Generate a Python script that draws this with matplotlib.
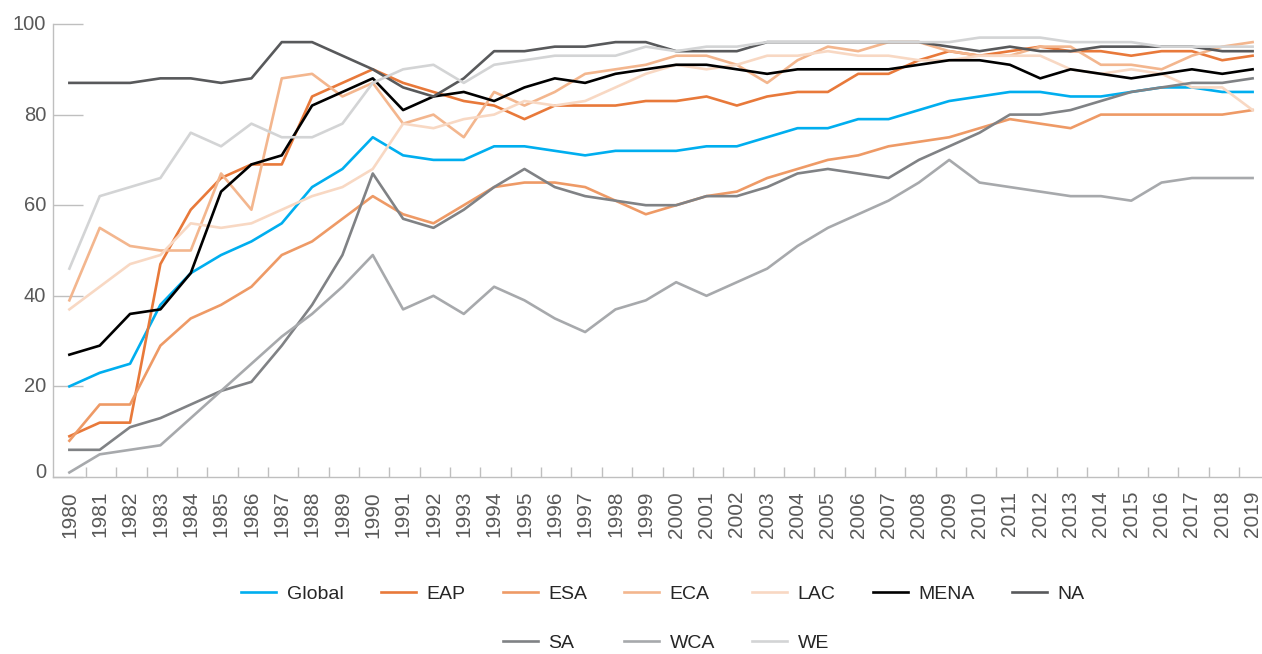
import matplotlib
matplotlib.use("Agg")
import matplotlib.pyplot as plt
import matplotlib.transforms as mtransforms
from matplotlib.lines import Line2D

years = list(range(1980, 2020))

global_vals = [20, 23, 25, 38, 45, 49, 52, 56, 64, 68,
               75, 71, 70, 70, 73, 73, 72, 71, 72, 72,
               72, 73, 73, 75, 77, 77, 79, 79, 81, 83,
               84, 85, 85, 84, 84, 85, 86, 86, 85, 85]
eap = [9, 12, 12, 47, 59, 66, 69, 69, 84, 87,
       90, 87, 85, 83, 82, 79, 82, 82, 82, 83,
       83, 84, 82, 84, 85, 85, 89, 89, 92, 94,
       93, 94, 95, 94, 94, 93, 94, 94, 92, 93]
esa = [8, 16, 16, 29, 35, 38, 42, 49, 52, 57,
       62, 58, 56, 60, 64, 65, 65, 64, 61, 58,
       60, 62, 63, 66, 68, 70, 71, 73, 74, 75,
       77, 79, 78, 77, 80, 80, 80, 80, 80, 81]
eca = [39, 55, 51, 50, 50, 67, 59, 88, 89, 84,
       87, 78, 80, 75, 85, 82, 85, 89, 90, 91,
       93, 93, 91, 87, 92, 95, 94, 96, 96, 94,
       93, 93, 95, 95, 91, 91, 90, 93, 95, 96]
lac = [37, 42, 47, 49, 56, 55, 56, 59, 62, 64,
       68, 78, 77, 79, 80, 83, 82, 83, 86, 89,
       91, 90, 91, 93, 93, 94, 93, 93, 92, 92,
       93, 93, 93, 90, 89, 90, 89, 86, 86, 81]
mena = [27, 29, 36, 37, 45, 63, 69, 71, 82, 85,
        88, 81, 84, 85, 83, 86, 88, 87, 89, 90,
        91, 91, 90, 89, 90, 90, 90, 90, 91, 92,
        92, 91, 88, 90, 89, 88, 89, 90, 89, 90]
na = [87, 87, 87, 88, 88, 87, 88, 96, 96, 93,
      90, 86, 84, 88, 94, 94, 95, 95, 96, 96,
      94, 94, 94, 96, 96, 96, 96, 96, 96, 95,
      94, 95, 94, 94, 95, 95, 95, 95, 94, 94]
sa = [6, 6, 11, 13, 16, 19, 21, 29, 38, 49,
      67, 57, 55, 59, 64, 68, 64, 62, 61, 60,
      60, 62, 62, 64, 67, 68, 67, 66, 70, 73,
      76, 80, 80, 81, 83, 85, 86, 87, 87, 88]
wca = [1, 5, 6, 7, 13, 19, 25, 31, 36, 42,
       49, 37, 40, 36, 42, 39, 35, 32, 37, 39,
       43, 40, 43, 46, 51, 55, 58, 61, 65, 70,
       65, 64, 63, 62, 62, 61, 65, 66, 66, 66]
we = [46, 62, 64, 66, 76, 73, 78, 75, 75, 78,
      87, 90, 91, 87, 91, 92, 93, 93, 93, 95,
      94, 95, 95, 96, 96, 96, 96, 96, 96, 96,
      97, 97, 97, 96, 96, 96, 95, 95, 95, 95]

series_names = ["Global", "EAP", "ESA", "ECA", "LAC", "MENA", "NA", "SA", "WCA", "WE"]
series_values = [global_vals, eap, esa, eca, lac, mena, na, sa, wca, we]
colors = ["#00AEEF", "#E8793A", "#EE9A66", "#F3B68E", "#F8D8C3",
          "#000000", "#58595B", "#808285", "#A7A9AC", "#D3D4D5"]

y_ticks = [0, 20, 40, 60, 80, 100]

plt.rcParams['font.family'] = ['Liberation Sans', 'DejaVu Sans']

fig = plt.figure(figsize=(12.62, 6.54), dpi=100)
ax = fig.add_axes([53.3 / 1262, 1 - 477 / 654, 1 - 53.3 / 1262, (477 - 24) / 654])

lines = {}
for name, vals, c in zip(series_names, series_values, colors):
    ln, = ax.plot(years, vals, color=c, lw=1.9, solid_joinstyle='round', clip_on=False)
    lines[name] = ln

ax.set_xlim(1979.47, 2019.31)
ax.set_ylim(0, 100)

for s in ['top', 'right']:
    ax.spines[s].set_visible(False)
for s in ['left', 'bottom']:
    ax.spines[s].set_color('#BFBFBF')
    ax.spines[s].set_linewidth(1.0)

ax.set_yticks(y_ticks)
ax.set_yticklabels([str(v) for v in y_ticks])
ax.tick_params(axis='y', direction='in', length=21.5, width=1.0, color='#BFBFBF',
               labelsize=14.5, labelcolor='#595959', pad=5)
for lab in ax.get_yticklabels():
    dy = 6 if lab.get_text() == '0' else 1.5
    lab.set_transform(lab.get_transform() +
                      mtransforms.ScaledTranslation(0, dy / 100, fig.dpi_scale_trans))

# major x ticks between categories (marks only), minor at years for labels
ax.set_xticks([y + 0.55 for y in years[:-1]])
ax.set_xticklabels([])
ax.tick_params(axis='x', which='major', direction='in', length=7.2, width=1.0, color='#BFBFBF')
ax.set_xticks(years, minor=True)
ax.set_xticklabels([str(y) for y in years], minor=True, rotation=90)
ax.tick_params(axis='x', which='minor', length=0, labelsize=15, labelcolor='#595959', pad=10)

# legend: 7 columns, second row under ESA/ECA/LAC
blank = Line2D([], [], color='none')
order = [("Global", lines["Global"]), ("", blank),
         ("EAP", lines["EAP"]), ("", blank),
         ("ESA", lines["ESA"]), ("SA", lines["SA"]),
         ("ECA", lines["ECA"]), ("WCA", lines["WCA"]),
         ("LAC", lines["LAC"]), ("WE", lines["WE"]),
         ("MENA", lines["MENA"]), ("", blank),
         ("NA", lines["NA"]), ("", blank)]
leg = fig.legend([h for _, h in order], [l for l, _ in order], ncol=7,
                 loc='upper center', bbox_to_anchor=(663 / 1262, 1 - 585 / 654),
                 frameon=False, fontsize=14, handlelength=1.8, handletextpad=0.55,
                 columnspacing=1.9, labelspacing=1.62, borderpad=0, borderaxespad=0)
for t in leg.get_texts():
    t.set_color('#262626')

fig.savefig("out.png", dpi=100)
